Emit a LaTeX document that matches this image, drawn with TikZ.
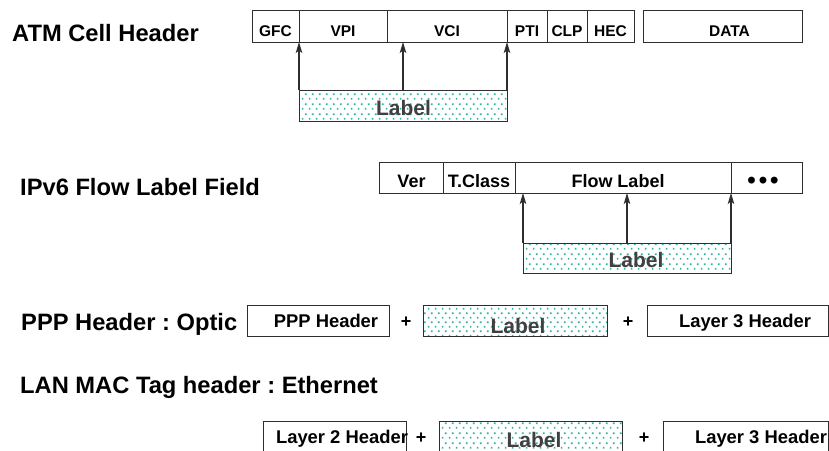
\documentclass[tikz,border=0pt]{standalone}
\usepackage{fontspec}
\setmainfont{Liberation Sans}
\usetikzlibrary{arrows.meta,patterns}
\frenchspacing

% staggered grid of small square dots for the label fields
\pgfdeclarepatternformonly{tealdots}{\pgfqpoint{0pt}{0pt}}{\pgfqpoint{7pt}{9.4pt}}{\pgfqpoint{7pt}{9.4pt}}{%
  \pgfpathrectangle{\pgfqpoint{1pt}{1.5pt}}{\pgfqpoint{1.8pt}{1.8pt}}%
  \pgfpathrectangle{\pgfqpoint{4.5pt}{6.2pt}}{\pgfqpoint{1.8pt}{1.8pt}}%
  \pgfusepath{fill}}

\definecolor{frame}{HTML}{2E2E2E}
\definecolor{dotteal}{HTML}{2CB3A6}
\definecolor{labgray}{HTML}{404040}

\begin{document}
\begin{tikzpicture}[x=1pt,y=-1pt,
  cell/.style={draw=frame,line width=0.9pt,inner sep=0pt,outer sep=0pt,
               rectangle,anchor=north west},
  labelcell/.style={cell,pattern=tealdots,pattern color=dotteal},
  arr/.style={draw=frame,line width=1.1pt,-{Stealth[length=11pt,width=6.5pt,inset=2.5pt]}},
  title/.style={font=\fontsize{23.7}{28}\selectfont\bfseries,anchor=base west,inner sep=0pt},
  atmtxt/.style={font=\fontsize{15.5}{18}\selectfont\bfseries,anchor=base,inner sep=0pt},
  ipvtxt/.style={font=\fontsize{18}{21}\selectfont\bfseries,anchor=base,inner sep=0pt},
  rowtxt/.style={font=\fontsize{18.4}{22}\selectfont\bfseries,anchor=base,inner sep=0pt},
  labtxt/.style={font=\fontsize{21}{24}\selectfont\bfseries,text=labgray,anchor=base,inner sep=0pt},
  plus/.style={font=\fontsize{18}{21}\selectfont\bfseries,inner sep=0pt}]

\useasboundingbox (0,0) rectangle (829,450);
\fill[white] (0,0) rectangle (829,450);

% ---------------- ATM cell header ----------------
\node[title] (t1) at (12,41.5) {ATM Cell Header};
\node[cell,minimum width=47pt, minimum height=32pt] (gfc)  at (252,10) {};
\node[cell,minimum width=88pt, minimum height=32pt] (vpi)  at (299,10) {};
\node[cell,minimum width=120pt,minimum height=32pt] (vci)  at (387,10) {};
\node[cell,minimum width=40pt, minimum height=32pt] (pti)  at (507,10) {};
\node[cell,minimum width=40pt, minimum height=32pt] (clp)  at (547,10) {};
\node[cell,minimum width=47pt, minimum height=32pt] (hec)  at (587,10) {};
\node[cell,minimum width=159pt,minimum height=32pt] (data) at (643,10) {};

\node[atmtxt] (tgfc)  at (275.5,36.7) {GFC};
\node[atmtxt] (tvpi)  at (343,36.7) {VPI};
\node[atmtxt] (tvci)  at (447,36.7) {VCI};
\node[atmtxt] (tpti)  at (527,36.7) {PTI};
\node[atmtxt] (tclp)  at (567,36.7) {CLP};
\node[atmtxt] (thec)  at (610.5,36.7) {HEC};
\node[atmtxt] (tdata) at (729.5,36.7) {DATA};

\node[labelcell,minimum width=208pt,minimum height=31pt] (lab1) at (299,90) {};
\node[labtxt] (tlab1) at (403.5,115) {Label};

\draw[arr] (lab1.north west) -- (gfc.south east);
\draw[arr] (lab1.north) -- (lab1.north |- vci.south);
\draw[arr] (lab1.north east) -- (vci.south east);

% ---------------- IPv6 flow label ----------------
\node[title] (t2) at (20,195.5) {IPv6 Flow Label Field};
\node[cell,minimum width=64pt, minimum height=31pt] (ver)  at (379,162) {};
\node[cell,minimum width=72pt, minimum height=31pt] (tcl)  at (443,162) {};
\node[cell,minimum width=216pt,minimum height=31pt] (flow) at (515,162) {};
\node[cell,minimum width=71pt, minimum height=31pt] (more) at (731,162) {};

\node[ipvtxt] (tver)  at (411.5,187) {Ver};
\node[ipvtxt] (ttcl)  at (479,187) {T.Class};
\node[ipvtxt] (tflow) at (618,187) {Flow Label};
\node[ipvtxt,font=\fontsize{24}{26}\selectfont\bfseries] (tmore) at (763,188.6)
  {•\kern3pt•\kern3pt•};

\node[labelcell,minimum width=208pt,minimum height=30pt] (lab2) at (523,243) {};
\node[labtxt] (tlab2) at (636,267) {Label};

\draw[arr] (lab2.north west) -- (lab2.north west |- flow.south);
\draw[arr] (lab2.north) -- (lab2.north |- flow.south);
\draw[arr] (lab2.north east) -- (flow.south east);

% ---------------- PPP header ----------------
\node[title] (t3) at (21,330.5) {PPP Header : Optic};
\node[cell,minimum width=142pt,  minimum height=31pt] (ppp) at (247,305) {};
\node[labelcell,minimum width=184pt,minimum height=31pt] (lab3) at (423,305) {};
\node[cell,minimum width=181.5pt,minimum height=31pt] (l3a) at (647,305) {};

\node[rowtxt] (tppp) at (326,327) {PPP Header};
\node[labtxt] (tlab3) at (518,333) {Label};
\node[rowtxt] (tl3a) at (745,327) {Layer 3 Header};
\node[plus] (p1) at (406,322) {+};
\node[plus] (p2) at (628,322) {+};

% ---------------- LAN MAC tag header ----------------
\node[title] (t4) at (20,393.5) {LAN MAC Tag header : Ethernet};
\node[cell,minimum width=143pt,  minimum height=40pt] (l2)  at (263,421) {};
\node[labelcell,minimum width=183pt,minimum height=40pt] (lab4) at (439,421) {};
\node[cell,minimum width=165.5pt,minimum height=40pt] (l3b) at (663,421) {};

\node[rowtxt] (tl2) at (342,443) {Layer 2 Header};
\node[labtxt] (tlab4) at (534,447) {Label};
\node[rowtxt] (tl3b) at (761,443) {Layer 3 Header};
\node[plus] (p3) at (421,438) {+};
\node[plus] (p4) at (644,438) {+};

\end{tikzpicture}
\end{document}
